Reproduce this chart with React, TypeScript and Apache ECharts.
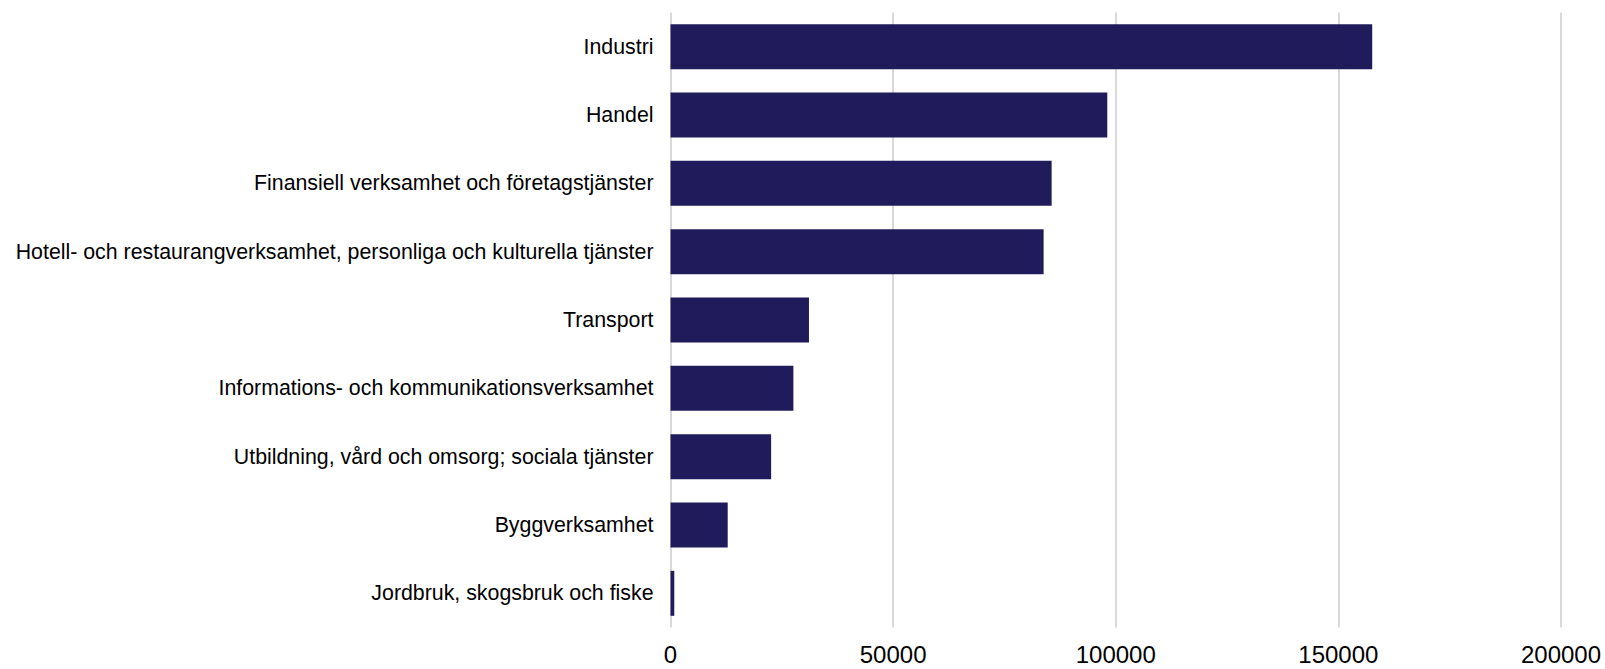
import React, { useEffect, useRef } from "react";
import * as echarts from "echarts";

const categories = [
  "Industri",
  "Handel",
  "Finansiell verksamhet och företagstjänster",
  "Hotell- och restaurangverksamhet, personliga och kulturella tjänster",
  "Transport",
  "Informations- och kommunikationsverksamhet",
  "Utbildning, vård och omsorg; sociala tjänster",
  "Byggverksamhet",
  "Jordbruk, skogsbruk och fiske",
];
const values = [157600, 98100, 85600, 83800, 31100, 27600, 22600, 12850, 850];

export default function App() {
  const ref = useRef<HTMLDivElement>(null);
  useEffect(() => {
    if (!ref.current) return;
    const chart = echarts.init(ref.current, null, { renderer: "svg" });
    chart.setOption({
      animation: false,
      grid: { left: 670.5, right: 44, top: 12.5, bottom: 41.5, containLabel: false },
      xAxis: {
        type: "value",
        min: 0,
        max: 200000,
        interval: 50000,
        axisLine: { show: false },
        axisTick: { show: false },
        splitLine: { show: true, lineStyle: { color: "#d9d9d9", width: 2 } },
        axisLabel: {
          color: "#000",
          fontSize: 24,
          fontFamily: "Liberation Sans, Arial, sans-serif",
          margin: 15,
          formatter: (v: number) => String(v),
        },
      },
      yAxis: {
        type: "category",
        data: categories,
        inverse: true,
        axisLine: { show: false },
        axisTick: { show: false },
        axisLabel: {
          color: "#000",
          fontSize: 21.33,
          fontFamily: "Liberation Sans, Arial, sans-serif",
          margin: 17,
        },
      },
      series: [
        {
          type: "bar",
          data: values,
          barWidth: 45,
          itemStyle: { color: "#201c5b" },
        },
      ],
    });
    return () => chart.dispose();
  }, []);
  return (
    <div
      ref={ref}
      style={{ position: "fixed", left: 0, top: 0, width: 1605, height: 669, background: "#fff" }}
    />
  );
}
